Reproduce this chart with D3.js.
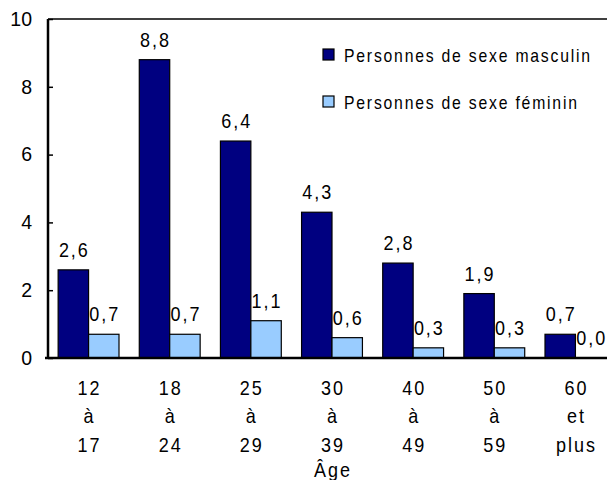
<!DOCTYPE html>
<html>
<head>
<meta charset="utf-8">
<script src="https://cdn.jsdelivr.net/npm/d3@7"></script>
<style>
  body { margin: 0; background: #fff; }
  svg text { font-family: "Liberation Sans", Arial, sans-serif; fill: #000; }
</style>
</head>
<body>
<div id="chart"></div>
<script>
const ageGroups = [["12", "à", "17"], ["18", "à", "24"], ["25", "à", "29"], ["30", "à", "39"], ["40", "à", "49"], ["50", "à", "59"], ["60", "et", "plus"]];
const masculin = [2.6, 8.8, 6.4, 4.3, 2.8, 1.9, 0.7];
const feminin = [0.7, 0.7, 1.1, 0.6, 0.3, 0.3, 0.0];
const seriesNames = ["Personnes de sexe masculin", "Personnes de sexe féminin"];
const seriesColors = ["#000080", "#99ccff"];
const yTicks = [0, 2, 4, 6, 8, 10];

const width = 607, height = 480;
const margin = {top: 19, right: -9, bottom: 122, left: 48};
const squeeze = 0.9; // narrow-font look

const svg = d3.select("#chart")
  .append("svg")
  .attr("width", width)
  .attr("height", height);

const xScale = d3.scaleBand()
  .domain(d3.range(ageGroups.length))
  .range([margin.left, width - margin.right])
  .paddingInner(0.25)
  .paddingOuter(0.125);

const xSub = d3.scaleBand()
  .domain([0, 1])
  .range([0, xScale.bandwidth()]);

const yScale = d3.scaleLinear()
  .domain([0, 10])
  .range([height - margin.bottom, margin.top]);

const fmt = v => d3.format(".1f")(v).replace(".", ",");

// narrow text helper
function narrowText(sel, x, y, size, spacing) {
  sel.attr("transform", (d, i) => `translate(${x(d, i)},${y(d, i)}) scale(${squeeze},1)`)
    .style("font-size", size + "px")
    .style("letter-spacing", spacing + "px");
}

// top border
svg.append("line")
  .attr("x1", margin.left).attr("x2", width)
  .attr("y1", yScale(10)).attr("y2", yScale(10))
  .attr("stroke", "#000").attr("stroke-width", 1.5);

// bars
const data = ageGroups.map((g, i) => [masculin[i], feminin[i]]);
const groups = svg.selectAll(".group")
  .data(data)
  .enter()
  .append("g")
  .attr("class", "group")
  .attr("transform", (d, i) => `translate(${xScale(i)},0)`);

groups.selectAll("rect")
  .data(d => d)
  .enter()
  .append("rect")
  .attr("x", (d, j) => xSub(j))
  .attr("y", d => yScale(d))
  .attr("width", xSub.bandwidth())
  .attr("height", d => yScale(0) - yScale(d))
  .attr("fill", (d, j) => seriesColors[j])
  .attr("stroke", "#000")
  .attr("stroke-width", 1.2);

groups.selectAll(".val")
  .data(d => d)
  .enter()
  .append("text")
  .attr("class", "val")
  .attr("text-anchor", "middle")
  .call(narrowText, (d, j) => xSub(j) + xSub.bandwidth() / 2 + 1, d => yScale(d) - 13, 20, 2.2)
  .text(d => fmt(d));

// y axis
const yAxis = svg.append("g")
  .attr("transform", `translate(${margin.left},0)`)
  .call(d3.axisLeft(yScale).tickValues(yTicks).tickSize(-5).tickPadding(16).tickFormat(d3.format("d")));
yAxis.select(".domain").attr("stroke-width", 2.5).attr("d", `M0,${yScale(10)}V${yScale(0)}`);
yAxis.selectAll(".tick line").attr("stroke-width", 1.5);
yAxis.selectAll(".tick text").style("font-size", "19.5px").style("font-family", "'Liberation Sans', Arial, sans-serif");

// x axis
svg.append("line")
  .attr("x1", margin.left - 3).attr("x2", width)
  .attr("y1", yScale(0)).attr("y2", yScale(0))
  .attr("stroke", "#000").attr("stroke-width", 2.5);

const xLabels = svg.selectAll(".xlab")
  .data(ageGroups)
  .enter()
  .append("text")
  .attr("class", "xlab")
  .attr("text-anchor", "middle")
  .call(narrowText, (d, i) => xScale(i) + xScale.bandwidth() / 2 + 1, () => yScale(0) + 37, 20, 2.2);

xLabels.selectAll("tspan")
  .data(d => d)
  .enter()
  .append("tspan")
  .attr("x", 0)
  .attr("dy", (d, k) => k === 0 ? 0 : 28.5)
  .text(d => d);

svg.append("text")
  .attr("text-anchor", "middle")
  .datum("Âge")
  .call(narrowText, () => (margin.left + width - margin.right) / 2 + 1, () => 477, 20, 2.2)
  .text(d => d);

// legend
const legend = svg.selectAll(".legend")
  .data(seriesNames)
  .enter()
  .append("g")
  .attr("class", "legend")
  .attr("transform", (d, i) => `translate(323,${49 + i * 47})`);

legend.append("rect")
  .attr("width", 11).attr("height", 11)
  .attr("fill", (d, i) => seriesColors[i])
  .attr("stroke", "#000").attr("stroke-width", 1.2);

legend.append("text")
  .call(narrowText, () => 21, () => 12.5, 17.5, 2.0)
  .text(d => d);
</script>
</body>
</html>
